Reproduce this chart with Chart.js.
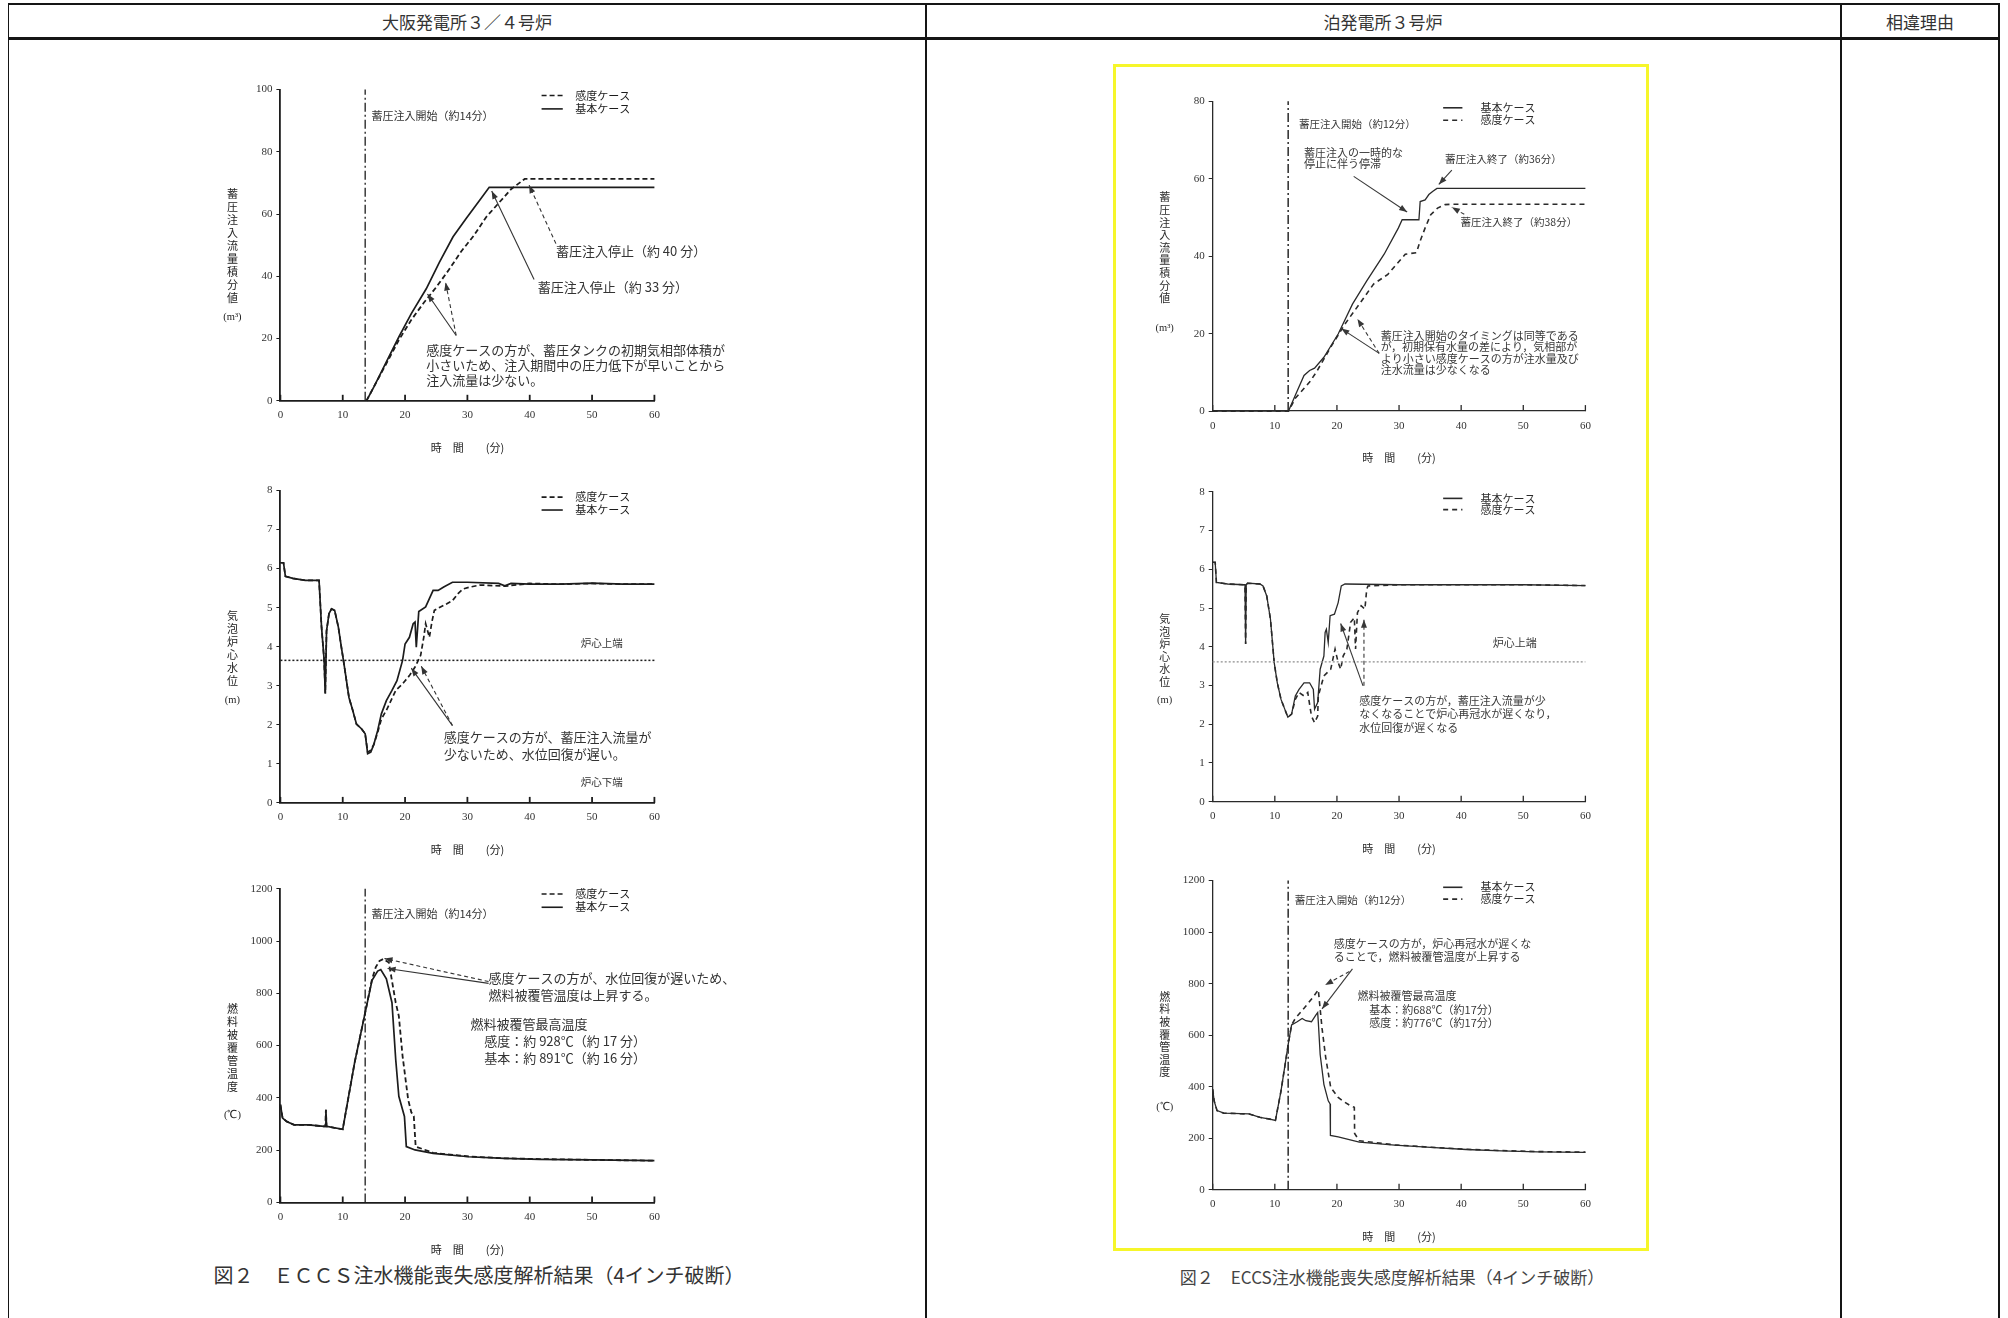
<!DOCTYPE html>
<html lang="ja">
<head>
<meta charset="utf-8">
<title>ECCS注水機能喪失感度解析結果</title>
<script src="https://cdn.jsdelivr.net/npm/chart.js@4/dist/chart.umd.min.js"></script>
<style>
  html, body { margin: 0; padding: 0; background: #fff; }
  #page { position: relative; width: 2008px; height: 1318px; overflow: hidden;
          font-family: "Noto Sans CJK JP", sans-serif; color: #222; }
  .ln { position: absolute; background: #151515; }
  .hdr { position: absolute; top: 13px; font-size: 17px; line-height: 1; color: #333;
         transform: translateX(-50%); white-space: nowrap; }
  .cap { position: absolute; line-height: 1; transform: translateX(-50%); white-space: nowrap; color: #333; }
  canvas { position: absolute; }
  #yellow { position: absolute; left: 1113px; top: 64px; width: 536px; height: 1187px;
            border: 3px solid #f6f62a; box-sizing: border-box; }
</style>
</head>
<body>
<div id="page">
  <div class="ln" style="left:8px;top:3px;width:1992px;height:2px"></div>
  <div class="ln" style="left:8px;top:37px;width:1992px;height:3px"></div>
  <div class="ln" style="left:8px;top:3px;width:1px;height:1315px"></div>
  <div class="ln" style="left:925px;top:3px;width:2px;height:1315px"></div>
  <div class="ln" style="left:1840px;top:3px;width:2px;height:1315px"></div>
  <div class="ln" style="left:1998px;top:3px;width:2px;height:1315px"></div>

  <div class="hdr" style="left:467px">大阪発電所３／４号炉</div>
  <div class="hdr" style="left:1383px">泊発電所３号炉</div>
  <div class="hdr" style="left:1920px">相違理由</div>

  <div id="yellow"></div>

  <canvas id="l1" width="620" height="410" style="left:150px;top:60px"></canvas>
  <canvas id="l2" width="620" height="400" style="left:150px;top:470px"></canvas>
  <canvas id="l3" width="620" height="390" style="left:150px;top:870px"></canvas>
  <canvas id="r1" width="520" height="395" style="left:1120px;top:75px"></canvas>
  <canvas id="r2" width="520" height="400" style="left:1120px;top:470px"></canvas>
  <canvas id="r3" width="520" height="376" style="left:1120px;top:870px"></canvas>

  <div class="cap" style="left:479px;top:1265px;font-size:20px">図２　ＥＣＣＳ注水機能喪失感度解析結果（4インチ破断）</div>
  <div class="cap" style="left:1392px;top:1268px;font-size:17px;color:#444">図２　ECCS注水機能喪失感度解析結果（4インチ破断）</div>
</div>

<script>
// 目盛
const TIME_TICKS = [0, 10, 20, 30, 40, 50, 60];
const Y_TICKS_ACC_OHI = [0, 20, 40, 60, 80, 100];
const Y_TICKS_ACC_TOMARI = [0, 20, 40, 60, 80];
const Y_TICKS_LEVEL = [0, 1, 2, 3, 4, 5, 6, 7, 8];
const Y_TICKS_TEMP = [0, 200, 400, 600, 800, 1000, 1200];

// 基準線
const OHI_ACC_START = 13.6;
const TOMARI_ACC_START = 12.15;
const OHI_CORE_TOP = 3.65;
const TOMARI_CORE_TOP = 3.61;

// 大飯 蓄圧注入流量積分値
const OHI_ACC_BASE_T = [13.8, 15, 17, 19, 21, 23.4, 25.5, 27.7, 29.8, 32, 33.5, 60];
const OHI_ACC_BASE_V = [0, 4.5, 12.5, 20.5, 28, 36, 44.5, 52.7, 58.6, 64.5, 68.6, 68.6];
const OHI_ACC_SENS_T = [13.8, 15, 17, 19, 21, 23, 25, 27, 29, 31, 33, 35, 37, 39.2, 60];
const OHI_ACC_SENS_V = [0, 4.5, 12, 19.5, 26, 31.5, 36.5, 42, 48, 53, 59, 63.5, 68, 71.3, 71.3];

// 大飯 気泡炉心水位
const OHI_LVL_BASE_T = [0, 0.5, 0.8, 2, 4, 6.2, 6.6, 7.0, 7.2, 7.4, 7.8, 8.2, 8.7, 9.3, 9.7, 10.2, 11, 11.6, 12.2, 13, 13.6, 14, 14.5, 15, 15.6, 16.2, 17, 17.9, 18.7, 19.6, 20, 20.7, 21.3, 21.6, 21.8, 22.2, 23.3, 23.9, 24.5, 25.3, 26.2, 27.6, 30, 35, 36, 37, 40, 45, 50, 55, 60];
const OHI_LVL_BASE_V = [6.15, 6.15, 5.8, 5.75, 5.7, 5.7, 4.5, 3.7, 2.8, 4.4, 4.85, 4.97, 4.93, 4.5, 4.07, 3.56, 2.7, 2.37, 2.02, 1.9, 1.77, 1.26, 1.3, 1.5, 1.85, 2.28, 2.62, 2.88, 3.13, 3.65, 4.07, 4.24, 4.59, 4.63, 3.99, 4.9, 5.02, 5.23, 5.44, 5.44, 5.53, 5.65, 5.65, 5.62, 5.56, 5.62, 5.6, 5.6, 5.63, 5.6, 5.6];
const OHI_LVL_SENS_T = [0, 0.5, 0.8, 2, 4, 6.2, 6.6, 7.0, 7.2, 7.4, 7.8, 8.2, 8.7, 9.3, 9.7, 10.2, 11, 11.6, 12.2, 13, 13.6, 14, 14.5, 15, 15.6, 16.2, 17, 18.5, 19.6, 20.7, 21.6, 22.5, 23, 23.3, 23.9, 24.3, 24.7, 25.6, 26.7, 27.6, 28.5, 29.3, 30.5, 32, 36, 40, 45, 50, 55, 60];
const OHI_LVL_SENS_V = [6.15, 6.15, 5.8, 5.75, 5.7, 5.7, 4.5, 3.7, 2.8, 4.4, 4.85, 4.97, 4.93, 4.5, 4.07, 3.56, 2.7, 2.37, 2.02, 1.9, 1.77, 1.3, 1.35, 1.5, 1.8, 2.15, 2.37, 2.88, 3.05, 3.26, 3.48, 3.78, 4.24, 4.59, 4.24, 4.63, 4.93, 5.01, 5.1, 5.18, 5.36, 5.48, 5.53, 5.58, 5.55, 5.62, 5.6, 5.62, 5.6, 5.6];

// 大飯 燃料被覆管温度
const OHI_TMP_BASE_T = [0, 0.35, 1, 2.2, 4.5, 7, 7.2, 7.3, 7.4, 10, 11.9, 13.6, 14.7, 15.6, 16.1, 17, 17.9, 18.5, 19, 19.9, 20.2, 21.6, 24.5, 30.2, 35.9, 41.6, 50.2, 60];
const OHI_TMP_BASE_V = [374, 323, 310, 297, 297, 291, 291, 355, 291, 280, 534, 726, 850, 885, 891, 855, 764, 547, 406, 329, 214, 201, 188, 175, 169, 165, 163, 160];
const OHI_TMP_SENS_T = [0, 0.35, 1, 2.2, 4.5, 7, 7.2, 7.3, 7.4, 10, 11.9, 13.6, 14.7, 15.3, 15.9, 16.5, 17.4, 18.5, 19, 19.6, 20.5, 21.0, 21.4, 21.7, 24.5, 30.2, 35.9, 41.6, 50.2, 60];
const OHI_TMP_SENS_V = [374, 323, 310, 297, 297, 291, 291, 355, 291, 280, 534, 726, 854, 900, 924, 931, 918, 764, 713, 560, 393, 345, 330, 214, 190, 176, 169, 166, 163, 160];

// 泊 蓄圧注入流量積分値
const TOMARI_ACC_BASE_T = [0, 12.2, 13.3, 14.7, 15.6, 16.4, 17.9, 20.2, 22.5, 24.8, 27.6, 29.9, 30.5, 33.2, 33.4, 34.2, 34.8, 35.4, 36.1, 60];
const TOMARI_ACC_BASE_V = [0, 0, 4.1, 9.2, 10.5, 11.1, 13.9, 19.9, 27.6, 33.6, 40.5, 47.3, 49.4, 49.4, 54.1, 54.5, 55.9, 56.7, 57.5, 57.5];
const TOMARI_ACC_SENS_T = [0, 12.2, 13.3, 15.6, 16.7, 19, 21.3, 23.6, 25.9, 28.2, 31, 32.8, 33.4, 34.2, 35.1, 36.2, 37.4, 38.5, 60];
const TOMARI_ACC_SENS_V = [0, 0, 3.3, 7.5, 10.1, 16.5, 22.5, 27.6, 32.8, 35.3, 40.5, 40.9, 43.9, 47.3, 50.7, 52.4, 53.3, 53.4, 53.4];

// 泊 気泡炉心水位
const TOMARI_LVL_BASE_T = [0, 0.4, 0.6, 2.4, 5.0, 5.2, 5.3, 5.4, 5.6, 7.6, 8.1, 8.7, 9.3, 9.9, 10.4, 11, 11.6, 12.1, 12.7, 13.3, 13.9, 14.7, 15.6, 16.2, 16.4, 16.9, 17.3, 17.9, 18.1, 18.3, 18.6, 18.9, 19.6, 20.2, 20.7, 21.3, 30, 40, 50, 60];
const TOMARI_LVL_BASE_V = [6.18, 6.18, 5.66, 5.62, 5.6, 5.6, 4.07, 5.6, 5.64, 5.62, 5.57, 5.31, 4.71, 3.59, 3.07, 2.64, 2.39, 2.18, 2.26, 2.73, 2.9, 3.07, 3.07, 2.9, 2.39, 2.56, 3.42, 3.76, 4.37, 4.45, 4.11, 4.8, 4.84, 5.14, 5.57, 5.62, 5.6, 5.6, 5.6, 5.58];
const TOMARI_LVL_SENS_T = [0, 0.4, 0.6, 2.4, 5.0, 5.2, 5.3, 5.4, 5.6, 7.6, 8.1, 8.7, 9.3, 9.9, 10.4, 11, 11.6, 12.1, 12.7, 13.3, 13.9, 14.7, 15.3, 15.9, 16.4, 16.9, 17, 17.9, 19, 19.7, 20.2, 20.6, 21, 21.6, 21.9, 22.2, 22.8, 23, 23.3, 23.9, 24.5, 24.8, 25, 30, 40, 50, 60];
const TOMARI_LVL_SENS_V = [6.18, 6.18, 5.66, 5.62, 5.6, 5.6, 4.07, 5.6, 5.64, 5.62, 5.57, 5.31, 4.71, 3.59, 3.07, 2.64, 2.39, 2.18, 2.26, 2.64, 2.82, 2.73, 2.82, 2.21, 2.04, 2.21, 2.73, 3.25, 3.42, 3.94, 3.59, 3.42, 3.76, 3.94, 4.28, 4.63, 4.75, 3.94, 4.88, 5.06, 4.97, 5.49, 5.57, 5.6, 5.6, 5.6, 5.58];

// 泊 燃料被覆管温度
const TOMARI_TMP_BASE_T = [0, 0.23, 0.7, 1.8, 5.85, 7.6, 9, 10.1, 11, 12.15, 12.7, 13.6, 14.4, 15, 15.9, 16.6, 16.9, 17, 17.3, 17.9, 18.6, 18.9, 18.95, 20.2, 23.6, 29.3, 35.1, 40.8, 46.5, 52.3, 60];
const TOMARI_TMP_BASE_V = [390, 345, 307, 297, 294, 281, 275, 269, 384, 563, 640, 652, 665, 656, 652, 678, 688, 652, 525, 409, 345, 333, 211, 205, 185, 173, 164, 156, 151, 147, 145];
const TOMARI_TMP_SENS_T = [0, 0.23, 0.7, 1.8, 5.85, 7.6, 9, 10.1, 11, 12.15, 12.7, 13.3, 14.7, 16.2, 17, 17.6, 18.2, 19, 20.2, 21.3, 22.2, 22.8, 22.85, 23.6, 29.3, 35.1, 40.8, 46.5, 52.3, 60];
const TOMARI_TMP_SENS_V = [390, 345, 307, 297, 294, 281, 275, 269, 384, 563, 640, 665, 704, 749, 776, 627, 512, 397, 358, 339, 326, 320, 218, 190, 174, 165, 157, 152, 148, 146];

const JP = '"Noto Sans CJK JP", sans-serif';
const NUM = '"Liberation Serif", serif';

function pts(ts, vs) {
    return ts.map((t, i) => ({ x: t, y: vs[i] }));
}

function drawArrow(ctx, x1, y1, x2, y2, dashed) {
    ctx.beginPath();
    ctx.setLineDash(dashed ? [4, 3] : []);
    ctx.moveTo(x1, y1);
    ctx.lineTo(x2, y2);
    ctx.stroke();
    ctx.setLineDash([]);
    const a = Math.atan2(y2 - y1, x2 - x1), L = 8, W = 3;
    ctx.beginPath();
    ctx.moveTo(x2, y2);
    ctx.lineTo(x2 - L * Math.cos(a) + W * Math.sin(a), y2 - L * Math.sin(a) - W * Math.cos(a));
    ctx.lineTo(x2 - L * Math.cos(a) - W * Math.sin(a), y2 - L * Math.sin(a) + W * Math.cos(a));
    ctx.closePath();
    ctx.fill();
}

// 注記・凡例・縦書きラベル（チャートのスケールで配置）
const DECO = {};

const decoPlugin = {
    id: 'deco',
    afterDraw(chart) {
        const o = DECO[chart.canvas.id];
        const ctx = chart.ctx, a = chart.chartArea;
        const X = v => chart.scales.x.getPixelForValue(v);
        const Y = v => chart.scales.y.getPixelForValue(v);
        ctx.save();
        ctx.strokeStyle = o.ink;
        ctx.fillStyle = o.ink;

        // x軸の内向き目盛
        ctx.lineWidth = o.axisW;
        TIME_TICKS.forEach(t => {
            ctx.beginPath();
            ctx.moveTo(X(t), a.bottom);
            ctx.lineTo(X(t), a.bottom - 6);
            ctx.stroke();
        });

        ctx.textBaseline = 'middle';
        ctx.textAlign = 'center';
        ctx.font = '11px ' + JP;
        ctx.fillText('時　間　　(分)', (a.left + a.right) / 2, a.bottom + 47);

        // 縦書きの軸ラベル
        const yt = o.yTitle;
        ctx.font = '11px ' + JP;
        yt.chars.split('').forEach((c, i) => {
            ctx.fillText(c, a.left - 48, a.top + yt.top + i * yt.pitch);
        });
        ctx.font = '10.5px ' + NUM;
        ctx.fillText(yt.unit, a.left - 48, a.top + yt.unitTop);

        // 凡例
        ctx.textAlign = 'left';
        ctx.lineWidth = 1.6;
        o.legend.items.forEach(it => {
            ctx.beginPath();
            ctx.setLineDash(it.dash || []);
            ctx.moveTo(X(o.legend.x1), Y(it.y));
            ctx.lineTo(X(o.legend.x2), Y(it.y));
            ctx.stroke();
            ctx.setLineDash([]);
            ctx.font = o.legend.size + 'px ' + JP;
            ctx.fillText(it.label, X(o.legend.xt), Y(it.y));
        });

        // 注記テキスト
        ctx.fillStyle = o.textInk;
        o.texts.forEach(t => {
            ctx.font = t.size + 'px ' + JP;
            t.lines.forEach((s, i) => ctx.fillText(s, X(t.x), Y(t.y[i])));
        });

        // 引出線
        ctx.strokeStyle = o.textInk;
        ctx.fillStyle = o.textInk;
        ctx.lineWidth = 1.1;
        o.arrows.forEach(r => drawArrow(ctx, X(r[0]), Y(r[1]), X(r[2]), Y(r[3]), r[4]));
        ctx.restore();
    }
};

function buildChart(id, c) {
    const cv = document.getElementById(id);
    const boxLeft = parseFloat(cv.style.left), boxTop = parseFloat(cv.style.top);
    const yW = c.area.l - boxLeft;
    const xH = boxTop + cv.height - c.area.b;
    DECO[id] = c.deco;
    const datasets = c.series.map(s => ({
        data: pts(s.t, s.v),
        borderColor: s.color || c.ink,
        borderWidth: s.w,
        borderDash: s.dash || [],
        pointRadius: 0,
        fill: false,
        tension: 0,
        clip: 6
    }));
    return new Chart(cv, {
        type: 'line',
        data: { datasets: datasets },
        options: {
            responsive: false,
            animation: false,
            events: [],
            layout: { padding: { top: c.area.t - boxTop, right: boxLeft + cv.width - c.area.r, left: 0, bottom: 0 } },
            scales: {
                x: {
                    type: 'linear', min: 0, max: 60,
                    afterFit: s => { s.height = xH; },
                    afterBuildTicks: s => { s.ticks = TIME_TICKS.map(v => ({ value: v })); },
                    grid: { display: false, drawTicks: false },
                    border: { display: true, color: c.ink, width: c.axisW },
                    ticks: { padding: 8, color: '#333', font: { family: NUM, size: 11 }, callback: v => String(v), maxRotation: 0 }
                },
                y: {
                    type: 'linear', min: c.yTicks[0], max: c.yTicks[c.yTicks.length - 1],
                    afterFit: s => { s.width = yW; },
                    afterBuildTicks: s => { s.ticks = c.yTicks.map(v => ({ value: v })); },
                    grid: { display: true, drawOnChartArea: false, drawTicks: true, tickLength: 4, color: c.ink, lineWidth: 1 },
                    border: { display: true, color: c.ink, width: c.axisW },
                    ticks: { padding: 4, color: '#333', font: { family: NUM, size: 11 }, callback: v => String(v) }
                }
            },
            plugins: { legend: { display: false }, tooltip: { enabled: false } }
        },
        plugins: [decoPlugin]
    });
}

const OHI = { ink: '#1c1c1c', axisW: 1.8, solidW: 1.7, dash: [5, 3] };
const TOMARI = { ink: '#2a2a2a', axisW: 1.3, solidW: 1.3, dash: [5, 4] };

// 大飯 図1
buildChart('l1', {
    ink: OHI.ink, axisW: OHI.axisW, yTicks: Y_TICKS_ACC_OHI,
    area: { l: 280.4, r: 654.4, t: 89.6, b: 400.8 },
    series: [
        { t: [OHI_ACC_START, OHI_ACC_START], v: [0, 100], w: 1.3, dash: [9, 3, 2, 3] },
        { t: OHI_ACC_SENS_T, v: OHI_ACC_SENS_V, w: 1.8, dash: OHI.dash },
        { t: OHI_ACC_BASE_T, v: OHI_ACC_BASE_V, w: OHI.solidW }
    ],
    deco: {
        ink: OHI.ink, textInk: '#333', axisW: OHI.axisW,
        yTitle: { chars: '蓄圧注入流量積分値', top: 104, pitch: 13, unit: '(m³)', unitTop: 228 },
        legend: { x1: 41.9, x2: 45.3, xt: 47.3, size: 11, items: [
            { y: 98.1, dash: OHI.dash, label: '感度ケース' },
            { y: 93.8, label: '基本ケース' }
        ] },
        texts: [
            { x: 14.6, y: [91.7], size: 11, lines: ['蓄圧注入開始（約14分）'] },
            { x: 44.2, y: [48.1], size: 13, lines: ['蓄圧注入停止（約 40 分）'] },
            { x: 41.3, y: [36.4], size: 13, lines: ['蓄圧注入停止（約 33 分）'] },
            { x: 23.4, y: [16.2, 11.4, 6.6], size: 13, lines: ['感度ケースの方が、蓄圧タンクの初期気相部体積が', '小さいため、注入期間中の圧力低下が早いことから', '注入流量は少ない。'] }
        ],
        arrows: [
            [44.2, 50.5, 39.9, 69.3, true],
            [40.7, 39, 33.9, 67.4, false],
            [28.2, 21, 23.6, 34.3, false],
            [28.2, 21, 26.5, 38, true]
        ]
    }
});

// 大飯 図2
buildChart('l2', {
    ink: OHI.ink, axisW: OHI.axisW, yTicks: Y_TICKS_LEVEL,
    area: { l: 280.4, r: 654.4, t: 490.5, b: 802.9 },
    series: [
        { t: [0, 60], v: [OHI_CORE_TOP, OHI_CORE_TOP], w: 1.5, dash: [2, 2] },
        { t: OHI_LVL_SENS_T, v: OHI_LVL_SENS_V, w: 1.7, dash: OHI.dash },
        { t: OHI_LVL_BASE_T, v: OHI_LVL_BASE_V, w: OHI.solidW }
    ],
    deco: {
        ink: OHI.ink, textInk: '#333', axisW: OHI.axisW,
        yTitle: { chars: '気泡炉心水位', top: 125, pitch: 13, unit: '(m)', unitTop: 209.5 },
        legend: { x1: 41.9, x2: 45.3, xt: 47.3, size: 11, items: [
            { y: 7.83, dash: OHI.dash, label: '感度ケース' },
            { y: 7.5, label: '基本ケース' }
        ] },
        texts: [
            { x: 48.2, y: [4.09], size: 10.5, lines: ['炉心上端'] },
            { x: 48.2, y: [0.53], size: 10.5, lines: ['炉心下端'] },
            { x: 26.2, y: [1.68, 1.26], size: 13, lines: ['感度ケースの方が、蓄圧注入流量が', '少ないため、水位回復が遅い。'] }
        ],
        arrows: [
            [27.6, 1.98, 21.0, 3.45, false],
            [27.6, 1.98, 22.6, 3.5, true]
        ]
    }
});

// 大飯 図3
buildChart('l3', {
    ink: OHI.ink, axisW: OHI.axisW, yTicks: Y_TICKS_TEMP,
    area: { l: 280.4, r: 654.4, t: 888.7, b: 1202.5 },
    series: [
        { t: [OHI_ACC_START, OHI_ACC_START], v: [0, 1200], w: 1.3, dash: [9, 3, 2, 3] },
        { t: OHI_TMP_SENS_T, v: OHI_TMP_SENS_V, w: 1.8, dash: OHI.dash },
        { t: OHI_TMP_BASE_T, v: OHI_TMP_BASE_V, w: OHI.solidW }
    ],
    deco: {
        ink: OHI.ink, textInk: '#333', axisW: OHI.axisW,
        yTitle: { chars: '燃料被覆管温度', top: 120, pitch: 13, unit: '(℃)', unitTop: 226.3 },
        legend: { x1: 41.9, x2: 45.3, xt: 47.3, size: 11, items: [
            { y: 1180, dash: OHI.dash, label: '感度ケース' },
            { y: 1129, label: '基本ケース' }
        ] },
        texts: [
            { x: 14.6, y: [1104], size: 11, lines: ['蓄圧注入開始（約14分）'] },
            { x: 33.4, y: [860, 792], size: 13, lines: ['感度ケースの方が、水位回復が遅いため、', '燃料被覆管温度は上昇する。'] },
            { x: 30.5, y: [681], size: 13, lines: ['燃料被覆管最高温度'] },
            { x: 32.7, y: [617, 553], size: 13, lines: ['感度：約 928℃（約 17 分）', '基本：約 891℃（約 16 分）'] }
        ],
        arrows: [
            [33.4, 845, 16.7, 933, true],
            [33.4, 838, 17.2, 895, false]
        ]
    }
});

// 泊 図1
buildChart('r1', {
    ink: TOMARI.ink, axisW: TOMARI.axisW, yTicks: Y_TICKS_ACC_TOMARI,
    area: { l: 1212.7, r: 1585.4, t: 101.2, b: 411.1 },
    series: [
        { t: [TOMARI_ACC_START, TOMARI_ACC_START], v: [0, 80], w: 1.5, dash: [9, 3, 2, 3] },
        { t: TOMARI_ACC_SENS_T, v: TOMARI_ACC_SENS_V, w: 1.6, dash: TOMARI.dash },
        { t: TOMARI_ACC_BASE_T, v: TOMARI_ACC_BASE_V, w: TOMARI.solidW }
    ],
    deco: {
        ink: TOMARI.ink, textInk: '#383838', axisW: TOMARI.axisW,
        yTitle: { chars: '蓄圧注入流量積分値', top: 96, pitch: 12.6, unit: '(m³)', unitTop: 226.8 },
        legend: { x1: 37.1, x2: 40.2, xt: 43.1, size: 11, items: [
            { y: 78.3, label: '基本ケース' },
            { y: 75.1, dash: TOMARI.dash, label: '感度ケース' }
        ] },
        texts: [
            { x: 13.9, y: [74], size: 10.5, lines: ['蓄圧注入開始（約12分）'] },
            { x: 14.7, y: [66.6, 63.8], size: 11, lines: ['蓄圧注入の一時的な', '停止に伴う停滞'] },
            { x: 37.4, y: [65], size: 10.5, lines: ['蓄圧注入終了（約36分）'] },
            { x: 39.9, y: [48.9], size: 10.5, lines: ['蓄圧注入終了（約38分）'] },
            { x: 27.05, y: [19.5, 16.6, 13.6, 10.7], size: 11, lines: ['蓄圧注入開始のタイミングは同等である', 'が，初期保有水量の差により，気相部が', 'より小さい感度ケースの方が注水量及び', '注水流量は少なくなる'] }
        ],
        arrows: [
            [22.7, 60.6, 31.3, 51.4, false],
            [38.5, 62.2, 36.4, 58.5, false],
            [40.5, 50.8, 38.5, 52.6, true],
            [26.8, 14.9, 20.7, 21.3, false],
            [26.8, 14.9, 23.3, 23.8, true]
        ]
    }
});

// 泊 図2
buildChart('r2', {
    ink: TOMARI.ink, axisW: TOMARI.axisW, yTicks: Y_TICKS_LEVEL,
    area: { l: 1212.7, r: 1585.4, t: 491.8, b: 801.7 },
    series: [
        { t: [0, 60], v: [TOMARI_CORE_TOP, TOMARI_CORE_TOP], w: 1.4, dash: [2, 2], color: '#9a9a9a' },
        { t: TOMARI_LVL_SENS_T, v: TOMARI_LVL_SENS_V, w: 1.6, dash: TOMARI.dash },
        { t: TOMARI_LVL_BASE_T, v: TOMARI_LVL_BASE_V, w: TOMARI.solidW }
    ],
    deco: {
        ink: TOMARI.ink, textInk: '#383838', axisW: TOMARI.axisW,
        yTitle: { chars: '気泡炉心水位', top: 127, pitch: 12.6, unit: '(m)', unitTop: 208.2 },
        legend: { x1: 37.1, x2: 40.2, xt: 43.1, size: 11, items: [
            { y: 7.83, label: '基本ケース' },
            { y: 7.54, dash: TOMARI.dash, label: '感度ケース' }
        ] },
        texts: [
            { x: 45.1, y: [4.09], size: 11, lines: ['炉心上端'] },
            { x: 23.6, y: [2.6, 2.26, 1.91], size: 11, lines: ['感度ケースの方が，蓄圧注入流量が少', 'なくなることで炉心再冠水が遅くなり，', '水位回復が遅くなる'] }
        ],
        arrows: [
            [24.2, 2.99, 20.6, 4.6, false],
            [24.35, 2.99, 24.35, 4.7, true]
        ]
    }
});

// 泊 図3
buildChart('r3', {
    ink: TOMARI.ink, axisW: TOMARI.axisW, yTicks: Y_TICKS_TEMP,
    area: { l: 1212.7, r: 1585.4, t: 878.5, b: 1189.7 },
    series: [
        { t: [TOMARI_ACC_START, TOMARI_ACC_START], v: [0, 1200], w: 1.5, dash: [9, 3, 2, 3] },
        { t: TOMARI_TMP_SENS_T, v: TOMARI_TMP_SENS_V, w: 1.6, dash: TOMARI.dash },
        { t: TOMARI_TMP_BASE_T, v: TOMARI_TMP_BASE_V, w: TOMARI.solidW }
    ],
    deco: {
        ink: TOMARI.ink, textInk: '#383838', axisW: TOMARI.axisW,
        yTitle: { chars: '燃料被覆管温度', top: 116, pitch: 12.6, unit: '(℃)', unitTop: 226.5 },
        legend: { x1: 37.1, x2: 40.2, xt: 43.1, size: 11, items: [
            { y: 1174, label: '基本ケース' },
            { y: 1128, dash: TOMARI.dash, label: '感度ケース' }
        ] },
        texts: [
            { x: 13.2, y: [1123], size: 10.5, lines: ['蓄圧注入開始（約12分）'] },
            { x: 19.5, y: [953, 904], size: 11, lines: ['感度ケースの方が，炉心再冠水が遅くな', 'ることで，燃料被覆管温度が上昇する'] },
            { x: 23.3, y: [751], size: 11, lines: ['燃料被覆管最高温度'] },
            { x: 25.2, y: [700, 649], size: 11, lines: ['基本：約688℃（約17分）', '感度：約776℃（約17分）'] }
        ],
        arrows: [
            [22, 847, 18.1, 795, true],
            [22.5, 857, 17.6, 702, false]
        ]
    }
});
</script>
</body>
</html>
